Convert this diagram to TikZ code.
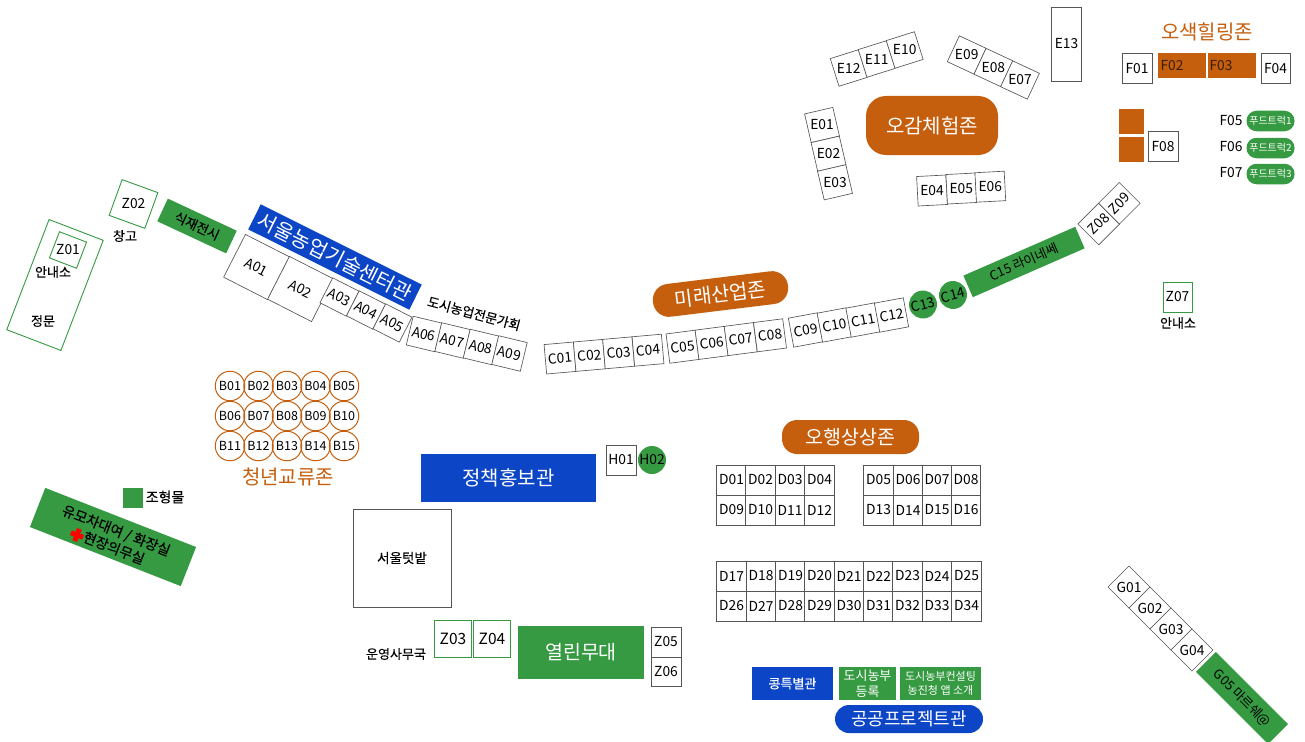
\documentclass[tikz,border=0pt]{standalone}
\usepackage{fontspec}
\setmainfont{Noto Sans CJK KR}
\newfontfamily\kb[FakeBold=0.3]{Noto Sans CJK KR}
\definecolor{og}{HTML}{C55F0E}
\definecolor{gr}{HTML}{359A41}
\definecolor{bl}{HTML}{0C45C6}
\definecolor{ln}{HTML}{555555}
\newcommand\fs[1]{\fontsize{#1}{#1}\selectfont}
\newcommand\fl[2]{\fontsize{#1}{#2}\selectfont}
\tikzset{
  base/.style={inner sep=0pt,outer sep=0pt,align=center,font=\fs{13.8}},
  cell/.style={base,draw=ln,line width=0.65pt,fill=white},
  gout/.style={base,draw=gr,line width=0.9pt,fill=white},
  lab/.style={base},
  klab/.style={base,font=\kb\fs{13}},
  gfill/.style={base,fill=gr},
  ofill/.style={base,fill=og},
  bfill/.style={base,fill=bl,text=white},
  circ/.style={base,circle,draw=og,line width=1pt,minimum size=29.5pt,font=\fs{12.5}},
  gcirc/.style={base,circle,fill=gr,minimum size=28pt},
  wt/.style={text=white},
  zone/.style={text=og}
}
% name, x, y, w, h, angle, text (text turns with the box)
\newcommand\rb[7]{\node[cell,rotate=#6,minimum width=#4pt,minimum height=#5pt] (#1) at (#2,#3) {#7};}
% same, text stays upright
\newcommand\ub[7]{\node[cell,rotate=#6,minimum width=#4pt,minimum height=#5pt] (#1) at (#2,#3) {};\node[lab] (#1t) at (#1) {#7};}
% name, cx, cy, w, h, style, text
\newcommand\bx[7]{\node[#6,minimum width=#4pt,minimum height=#5pt] (#1) at (#2,#3) {#7};}
\begin{document}
\begin{tikzpicture}[x=1pt,y=-1pt]
\useasboundingbox (0,0) rectangle (1305,741);
\fill[white] (0,0) rectangle (1305,741);

% --- gate ---
\node[gout,rotate=-21,minimum width=58pt,minimum height=118pt] (gate) at (55,285) {};
\node[gout,rotate=-21,minimum width=29pt,minimum height=28pt] (Z01) at (68,250) {};
\node[lab] (Z01t) at (Z01) {Z01};
\node[klab] (info1) at (53,272) {안내소};
\node[klab] (gatet) at (43,321) {정문};
\node[gout,rotate=-20,minimum width=38pt,minimum height=38pt] (Z02) at (133.5,204) {};
\node[lab] (Z02t) at (Z02) {Z02};
\node[klab] (store) at (125,236) {창고};
\node[gfill,rotate=-25,minimum width=76pt,minimum height=25pt,font=\kb\fs{13}] (plant) at (197,226) {식재전시};
\node[bfill,rotate=-26.5,minimum width=180pt,minimum height=28pt,font=\fs{20.5}] (seoulag) at (335,257) {서울농업기술센터관};

% --- A ---
\rb{A01}{256.5}{267}{49.3}{48}{-27}{A01}
\rb{A02}{300.5}{289}{49.3}{48}{-27}{A02}
\rb{A03}{339.5}{297}{29.5}{28}{-27}{A03}
\rb{A04}{366}{310}{29.5}{28}{-27}{A04}
\rb{A05}{392.5}{323}{29.5}{28}{-27}{A05}
\rb{A06}{424}{334}{29.3}{29.5}{-13.5}{A06}
\rb{A07}{452.5}{340.5}{29.3}{29.5}{-13.5}{A07}
\rb{A08}{481}{347}{29.3}{29.5}{-13.5}{A08}
\rb{A09}{509.5}{353.5}{29.3}{29.5}{-13.5}{A09}
\node[klab,rotate=-15] (expert) at (474,313.5) {도시농업전문가회};

% --- B ---
\foreach \n/\x/\y in {B01/230/386,B02/258.5/386,B03/287/386,B04/315.5/386,B05/344/386,
  B06/230/416,B07/258.5/416,B08/287/416,B09/315.5/416,B10/344/416,
  B11/230/446,B12/258.5/446,B13/287/446,B14/315.5/446,B15/344/446}
  {\node[circ] (\n) at (\x,\y) {\n};}
\node[lab,zone,font=\fs{20}] (youth) at (288,477) {청년교류존};

% --- left bottom ---
\bx{sculpt}{133}{498}{20}{20}{gfill}{}
\node[klab,font=\kb\fs{14}] (sculptt) at (165,497) {조형물};
\node[gfill,rotate=-21.4,minimum width=162pt,minimum height=42pt] (stroller) at (113,537) {};
\node[klab,rotate=-21.4,font=\kb\fs{14}] (st1) at (116,531) {유모차대여 / 화장실};
\node[klab,rotate=-21.4,font=\kb\fs{14}] (st2) at (114,548) {현장의무실};
\fill[red,rotate around={-21:(77,535)}] (74.5,528.5) rectangle (79.5,541.5) (70.5,532.5) rectangle (83.5,537.5);

% --- centre ---
\bx{policy}{508.5}{478}{175}{48}{bfill,font=\fs{20}}{정책홍보관}
\bx{H01}{621}{460}{30}{30}{cell}{H01}
\node[gcirc] (H02) at (652,460) {H02};
\bx{garden}{402}{558}{98}{98}{cell,font=\kb\fs{13.5}}{서울텃밭}
\node[klab] (office) at (396,654) {운영사무국};
\bx{Z03}{453}{639}{37.5}{37.5}{gout,font=\fs{15.5}}{Z03}
\bx{Z04}{492}{639}{37.5}{37.5}{gout,font=\fs{15.5}}{Z04}
\bx{stage}{581}{652.5}{126}{53}{gfill,text=white,font=\fs{19.5}}{열린무대}
\bx{Z05}{666}{642}{30}{30}{cell}{Z05}
\bx{Z06}{666}{671.5}{30}{29}{cell}{Z06}

% --- D ---
\node[ofill,wt,rounded corners=15pt,minimum width=137pt,minimum height=34pt,font=\fs{19.5}] (fiveplay) at (850.5,437) {오행상상존};
\foreach \n/\x/\y in {D01/731.5/480,D02/760.5/480,D03/790/480,D04/819.5/480,
  D05/878.5/480,D06/908/480,D07/937/480,D08/966/480,
  D09/731.5/510,D10/760.5/510,D11/790/510,D12/819.5/510,
  D13/878.5/510,D14/908/510,D15/937/510,D16/966/510,
  D17/731.5/576,D18/761/576,D19/790.5/576,D20/819.5/576,D21/849/576,D22/878.5/576,D23/907.5/576,D24/937/576,D25/966.5/576,
  D26/731.5/606,D27/761/606,D28/790.5/606,D29/819.5/606,D30/849/606,D31/878.5/606,D32/907.5/606,D33/937/606,D34/966.5/606}
  {\node[cell,minimum width=29.4pt,minimum height=30pt] (\n) at (\x,\y) {\n};}

% --- public ---
\bx{bean}{792.5}{683.5}{81}{33}{bfill,font=\kb\fs{13}}{콩특별관}
\bx{farmer}{867.5}{683.5}{57}{33}{gfill,text=white,font=\fl{13}{15.5}}{도시농부\\등록}
\bx{consult}{940.5}{683.5}{81}{33}{gfill,text=white,font=\fl{11}{14}}{도시농부컨설팅\\농진청 앱 소개}
\node[bfill,rounded corners=14pt,minimum width=148pt,minimum height=28pt,font=\fs{18}] (public) at (909,719) {공공프로젝트관};

% --- C ---
\node[ofill,wt,rotate=7,rounded corners=16pt,minimum width=136pt,minimum height=33pt,font=\fs{20}] (future) at (720.5,294) {미래산업존};
\rb{C01}{560}{358}{29.4}{29.5}{5}{C01}
\rb{C02}{589.3}{355.4}{29.4}{29.5}{5}{C02}
\rb{C03}{618.6}{352.8}{29.4}{29.5}{5}{C03}
\rb{C04}{648}{350.2}{29.4}{29.5}{5}{C04}
\rb{C05}{682.5}{346.7}{29.4}{29.5}{7.4}{C05}
\rb{C06}{711.6}{342.9}{29.4}{29.5}{7.4}{C06}
\rb{C07}{740.7}{339.1}{29.4}{29.5}{7.4}{C07}
\rb{C08}{770}{335.3}{29.4}{29.5}{7.4}{C08}
\rb{C09}{805.5}{330}{29.4}{29.5}{10.5}{C09}
\rb{C10}{834.3}{325}{29.4}{29.5}{10.5}{C10}
\rb{C11}{863}{320}{29.4}{29.5}{10.5}{C11}
\rb{C12}{891.5}{315}{29.4}{29.5}{10.5}{C12}
\node[gcirc,rotate=15] (C13) at (923,304.5) {C13};
\node[gcirc,rotate=15] (C14) at (953,295) {C14};
\node[gfill,rotate=23.6,minimum width=122pt,minimum height=23.5pt,font=\fs{13}] (C15) at (1024,262) {C15 라이네쎄};
\rb{Z08}{1098.7}{224}{29.3}{29.5}{45}{Z08}
\rb{Z09}{1119.3}{203.3}{29.3}{29.5}{45}{Z09}

% --- E ---
\ub{E12}{848.7}{68}{29.5}{29}{17.5}{E12}
\ub{E11}{876.7}{59}{29.5}{29}{17.5}{E11}
\ub{E10}{904.7}{50}{29.5}{29}{17.5}{E10}
\ub{E09}{966.7}{55}{29.5}{28.5}{-25}{E09}
\ub{E08}{993.4}{67.5}{29.5}{28.5}{-25}{E08}
\ub{E07}{1020}{80}{29.5}{28.5}{-25}{E07}
\bx{E13}{1066.5}{44}{30}{74}{cell}{E13}
\ub{E01}{822}{125}{29}{29.4}{13}{E01}
\ub{E02}{828.5}{153.7}{29}{29.4}{13}{E02}
\ub{E03}{835}{182.3}{29}{29.4}{13}{E03}
\node[ofill,wt,rounded corners=20pt,minimum width=132pt,minimum height=59pt,font=\fs{20}] (sense) at (932,125.5) {오감체험존};
\ub{E04}{932}{190.5}{29.3}{29.5}{3}{E04}
\ub{E05}{961.3}{188.5}{29.3}{29.5}{3}{E05}
\ub{E06}{990.3}{186.7}{29.3}{29.5}{3}{E06}

% --- F ---
\node[lab,zone,font=\fs{20}] (heal) at (1207,31.5) {오색힐링존};
\bx{F01}{1137}{68.5}{30}{30}{cell}{F01}
\bx{F02}{1182}{65.5}{48}{25}{ofill}{}
\node[lab,text=black!70!og] (F02t) at (1172,66) {F02};
\bx{F03}{1232}{65.5}{48}{25}{ofill}{}
\node[lab,text=black!70!og] (F03t) at (1221,66) {F03};
\bx{F04}{1275.5}{68.5}{29}{30}{cell}{F04}
\bx{o1}{1131}{121.5}{25}{25}{ofill}{}
\bx{o2}{1131}{149}{25}{25}{ofill}{}
\bx{F08}{1163}{146.5}{30}{30}{cell}{F08}
\node[lab] (F05) at (1231,120.5) {F05};
\node[lab] (F06) at (1231,146.5) {F06};
\node[lab] (F07) at (1231,172.5) {F07};
\foreach \n/\y/\t in {t1/121/푸드트럭1,t2/148/푸드트럭2,t3/174/푸드트럭3}
  {\node[gfill,wt,rounded corners=10pt,minimum width=48pt,minimum height=20.5pt,font=\fs{10}] (\n) at (1270.5,\y) {\t};}

% --- Z07, G ---
\bx{Z07}{1177.5}{297}{29}{30}{gout}{Z07}
\node[klab] (info2) at (1178,323) {안내소};
\ub{G01}{1129}{587}{29.7}{29.7}{-45}{G01}
\ub{G02}{1150}{608}{29.7}{29.7}{-45}{G02}
\ub{G03}{1171}{629}{29.7}{29.7}{-45}{G03}
\ub{G04}{1192}{650}{29.7}{29.7}{-45}{G04}
\node[gfill,rotate=-45,minimum width=102pt,minimum height=28pt,font=\fs{13}] (G05) at (1242,698) {G05 마르쉐@};
\end{tikzpicture}
\end{document}
